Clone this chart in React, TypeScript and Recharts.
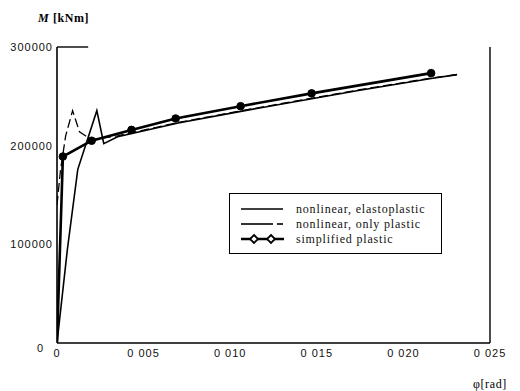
import { LineChart, Line, XAxis, YAxis, ReferenceLine } from "recharts";

// rotation phi [rad] and moment M [kNm]
const elastoPhi = [0, 0.0006, 0.0012, 0.0023, 0.0027, 0.0035, 0.007, 0.011, 0.0174, 0.0216, 0.0231];
const elastoM = [0, 95000, 176000, 235500, 202000, 209000, 223000, 236000, 256000, 268000, 272000];

const plasticPhi = [0, 0.0002, 0.0005, 0.0009, 0.0013, 0.002, 0.0035, 0.007, 0.011, 0.0174, 0.0216, 0.0231];
const plasticM = [140000, 175000, 210000, 235500, 214000, 206000, 210000, 223500, 236500, 256500, 268500, 272000];

const simplePhi = [0, 0.00034, 0.002, 0.0043, 0.00685, 0.0106, 0.0147, 0.0216];
const simpleM = [0, 189000, 205000, 216000, 227500, 240000, 253000, 273500];

const xTicks = [0, 0.005, 0.01, 0.015, 0.02, 0.025];
const xTickLabels = ["0", "0 005", "0 010", "0 015", "0 020", "0 025"];
const yTicks = [0, 100000, 200000, 300000];

const legendLabels = ["nonlinear, elastoplastic", "nonlinear, only plastic", "simplified plastic"];

const toPoints = (xs: number[], ys: number[]) => xs.map((x, i) => ({ x, y: ys[i] }));

const elastoData = toPoints(elastoPhi, elastoM);
const plasticData = toPoints(plasticPhi, plasticM);
const simpleData = toPoints(simplePhi, simpleM);

const tickFont = "'Liberation Sans', Arial, sans-serif";
const textFont = "'Liberation Serif', 'Times New Roman', serif";

const XTick = ({ x, y, payload }: any) => {
  const i = xTicks.indexOf(payload.value);
  return (
    <text x={x} y={y + 8} textAnchor="middle" fontFamily={tickFont} fontSize={11}
      letterSpacing={1} fill="#111" dominantBaseline="central">
      {i >= 0 ? xTickLabels[i] : payload.value}
    </text>
  );
};

const YTick = ({ x, y, payload }: any) => {
  if (payload.value === 0) {
    return (
      <text x={x - 12} y={y + 5} textAnchor="end" fontFamily={tickFont} fontSize={11}
        fill="#111" dominantBaseline="central">0</text>
    );
  }
  return (
    <text x={x - 2} y={y} textAnchor="end" fontFamily={tickFont} fontSize={11}
      letterSpacing={1} fill="#111" dominantBaseline="central">
      {payload.value}
    </text>
  );
};

const SimpleDot = (props: any) => {
  const { cx, cy, index } = props;
  if (index === 0) return <g key={`d${index}`} />;
  return <circle key={`d${index}`} cx={cx} cy={cy} r={3.8} fill="#000" stroke="#000" />;
};

const legendRows = [15, 30, 45];

function LegendBox() {
  return (
    <div style={{
      position: "absolute", left: 229, top: 193, width: 211, height: 59,
      border: "1.5px solid #000", background: "#fff",
    }}>
      <svg width={211} height={59} style={{ position: "absolute", left: 0, top: 0 }}>
        <line x1={11} x2={53} y1={legendRows[0]} y2={legendRows[0]} stroke="#000" strokeWidth={1.6} />
        <line x1={11} x2={43} y1={legendRows[1]} y2={legendRows[1]} stroke="#000" strokeWidth={1.6} />
        <line x1={47} x2={53} y1={legendRows[1]} y2={legendRows[1]} stroke="#000" strokeWidth={1.6} />
        <line x1={11} x2={54} y1={legendRows[2]} y2={legendRows[2]} stroke="#000" strokeWidth={2.6} />
        {[24, 41].map((cx) => (
          <path key={cx} d={`M${cx} ${legendRows[2] - 4} L${cx + 4} ${legendRows[2]} L${cx} ${legendRows[2] + 4} L${cx - 4} ${legendRows[2]} Z`}
            fill="#fff" stroke="#000" strokeWidth={1.8} />
        ))}
        {legendLabels.map((t, i) => (
          <text key={t} x={66} y={legendRows[i]} fontFamily={textFont} fontSize={12}
            letterSpacing={0.8} dominantBaseline="central" fill="#111">{t}</text>
        ))}
      </svg>
    </div>
  );
}

export default function App() {
  return (
    <div style={{ position: "absolute", left: 0, top: 0, width: 520, height: 391, background: "#fff" }}>
      <LineChart width={520} height={391} margin={{ top: 47, right: 30, left: 0, bottom: 0 }}>
        <XAxis
          type="number"
          dataKey="x"
          domain={[0, 0.025]}
          ticks={xTicks}
          tick={<XTick />}
          tickLine={false}
          tickSize={0}
          height={48}
          axisLine={{ stroke: "#000", strokeWidth: 1.6 }}
          allowDataOverflow
        />
        <YAxis
          type="number"
          dataKey="y"
          domain={[0, 300000]}
          ticks={yTicks}
          tick={<YTick />}
          tickLine={false}
          tickSize={0}
          width={57}
          axisLine={{ stroke: "#000", strokeWidth: 1.6 }}
        />
        <ReferenceLine x={0.025} stroke="#000" strokeWidth={1.4} />
        <ReferenceLine segment={[{ x: 0, y: 300000 }, { x: 0.0018, y: 300000 }]} stroke="#000" strokeWidth={1.4} />
        <Line data={elastoData} dataKey="y" type="linear" stroke="#000" strokeWidth={1.6}
          dot={false} isAnimationActive={false} />
        <Line data={plasticData} dataKey="y" type="linear" stroke="#000" strokeWidth={1.3}
          strokeDasharray="9 4" dot={false} isAnimationActive={false} />
        <Line data={simpleData} dataKey="y" type="linear" stroke="#000" strokeWidth={2.6}
          dot={SimpleDot} isAnimationActive={false} />
      </LineChart>
      <LegendBox />
      <div style={{ position: "absolute", left: 38, top: 11, fontFamily: textFont, fontSize: 12, fontWeight: "bold", letterSpacing: 0.6 }}>
        <i>M</i> [kNm]
      </div>
      <div style={{ position: "absolute", left: 473, top: 377, fontFamily: textFont, fontSize: 12, letterSpacing: 0.6 }}>
        φ[rad]
      </div>
    </div>
  );
}
